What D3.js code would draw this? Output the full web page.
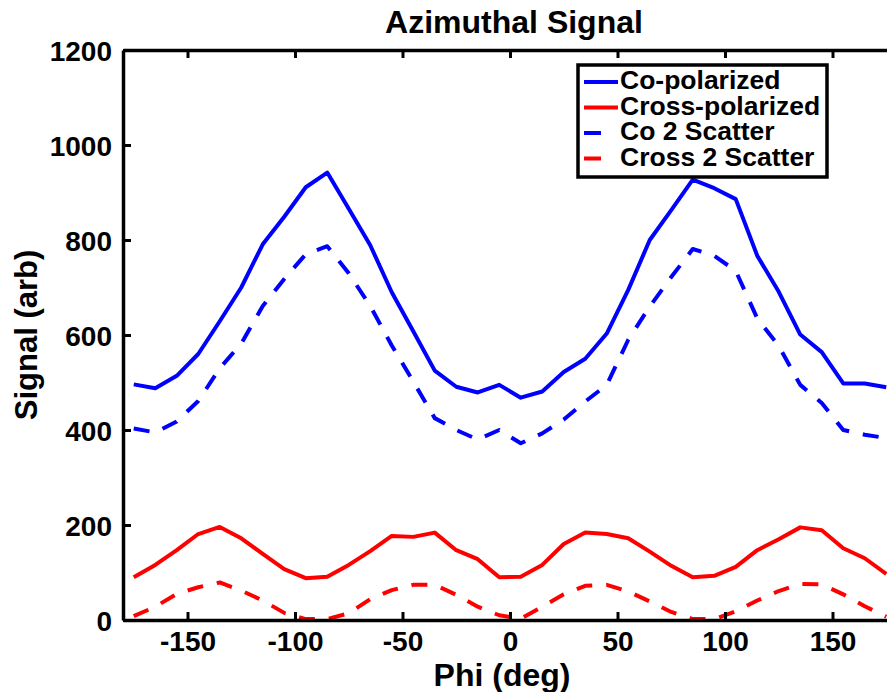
<!DOCTYPE html>
<html>
<head>
<meta charset="utf-8">
<script src="https://cdn.jsdelivr.net/npm/d3@7"></script>
<style>
  body { margin: 0; background: #fff; }
  svg { display: block; font-family: "Liberation Sans", Arial, Helvetica, sans-serif; font-weight: bold; }
</style>
</head>
<body>
<svg id="chart" width="887" height="692"></svg>
<script>
const phi = [-175, -165, -155, -145, -135, -125, -115, -105, -95, -85, -75, -65, -55, -45, -35, -25, -15, -5,
             5, 15, 25, 35, 45, 55, 65, 75, 85, 95, 105, 115, 125, 135, 145, 155, 165, 175];

const coPolarized = [496, 488, 514, 560, 629, 700, 791, 849, 911, 942, 866, 789, 690, 608, 525, 491, 479, 495,
                     468, 481, 522, 550, 603, 695, 800, 863, 927, 909, 886, 767, 691, 601, 564, 498, 498, 490];

const crossPolarized = [90, 116, 147, 181, 196, 172, 139, 107, 88, 91, 116, 145, 177, 175, 184, 147, 128, 90,
                        91, 116, 160, 184, 181, 172, 144, 114, 90, 93, 112, 147, 170, 195, 189, 151, 130, 97];

const co2Scatter = [403, 395, 418, 461, 530, 582, 661, 718, 770, 787, 730, 661, 578, 502, 425, 400, 380, 400,
                    372, 393, 422, 460, 495, 590, 660, 722, 781, 767, 735, 635, 577, 495, 457, 400, 390, 383];

const cross2Scatter = [8, 28, 55, 69, 79, 62, 41, 15, 2, 2, 14, 44, 63, 74, 74, 53, 28, 10,
                       3, 28, 54, 72, 74, 60, 39, 17, 2, 2, 18, 41, 61, 76, 75, 54, 29, 7];

const xTicks = [-150, -100, -50, 0, 50, 100, 150];
const yTicks = [0, 200, 400, 600, 800, 1000, 1200];

const series = [
  {name: 'Co-polarized', values: coPolarized, color: '#0000ff', dashed: false},
  {name: 'Cross-polarized', values: crossPolarized, color: '#ff0000', dashed: false},
  {name: 'Co 2 Scatter', values: co2Scatter, color: '#0000ff', dashed: true},
  {name: 'Cross 2 Scatter', values: cross2Scatter, color: '#ff0000', dashed: true}
];

const margin = {top: 50, left: 123};
const width = 774;
const height = 570;

const svg = d3.select('#chart');
const g = svg.append('g').attr('transform', `translate(${margin.left},${margin.top})`);

const x = d3.scaleLinear().domain([-180, 180]).range([0, width]);
const y = d3.scaleLinear().domain([0, 1200]).range([height, 0]);

// plain ascii labels, no thousands separator
const plain = d => String(d);

// data lines
const line = d3.line()
  .x((d, i) => x(phi[i]))
  .y(d => y(d));

g.selectAll('path.series')
  .data(series)
  .enter()
  .append('path')
  .attr('class', 'series')
  .attr('d', s => line(s.values))
  .attr('fill', 'none')
  .attr('stroke', s => s.color)
  .attr('stroke-width', 4)
  .attr('stroke-linejoin', 'round')
  .attr('stroke-dasharray', s => s.dashed ? '16,14' : null);

// axes, ticks pointing inwards
function styleAxis(sel) {
  sel.select('.domain').attr('stroke', '#000').attr('stroke-width', 3.5);
  sel.selectAll('.tick line').attr('stroke', '#000').attr('stroke-width', 3);
  sel.selectAll('.tick text')
    .attr('fill', '#000')
    .style('font-size', '28px')
    .style('font-family', '"Liberation Sans", Arial, sans-serif')
    .style('font-weight', 'bold');
}

g.append('g')
  .attr('transform', `translate(0,${height})`)
  .call(d3.axisBottom(x).tickValues(xTicks).tickFormat(plain).tickSizeInner(-8).tickSizeOuter(0).tickPadding(11))
  .call(styleAxis);

g.append('g')
  .call(d3.axisTop(x).tickValues(xTicks).tickSizeInner(-8).tickSizeOuter(0).tickFormat(''))
  .call(styleAxis);

g.append('g')
  .call(d3.axisLeft(y).tickValues(yTicks).tickFormat(plain).tickSizeInner(-8).tickSizeOuter(0).tickPadding(11))
  .call(styleAxis)
  .selectAll('.tick text').attr('dy', '0.36em');

g.append('g')
  .attr('transform', `translate(${width},0)`)
  .call(d3.axisRight(y).tickValues(yTicks).tickSizeInner(-8).tickSizeOuter(0).tickFormat(''))
  .call(styleAxis);

// titles
svg.append('text')
  .attr('x', 514)
  .attr('y', 33)
  .attr('text-anchor', 'middle')
  .style('font-size', '32px')
  .text('Azimuthal Signal');

svg.append('text')
  .attr('x', 502)
  .attr('y', 686)
  .attr('text-anchor', 'middle')
  .style('font-size', '32px')
  .text('Phi (deg)');

svg.append('text')
  .attr('transform', 'translate(37,335) rotate(-90)')
  .attr('text-anchor', 'middle')
  .style('font-size', '31px')
  .text('Signal (arb)');

// legend
const legend = svg.append('g').attr('class', 'legend');

legend.append('rect')
  .attr('x', 578)
  .attr('y', 65)
  .attr('width', 249)
  .attr('height', 112)
  .attr('fill', '#fff')
  .attr('stroke', '#000')
  .attr('stroke-width', 3.5);

const entries = legend.selectAll('g.entry')
  .data(series)
  .enter()
  .append('g')
  .attr('class', 'entry')
  .attr('transform', (d, i) => `translate(584,${82 + i * 25.5})`);

entries.append('line')
  .attr('x1', 0)
  .attr('x2', 34)
  .attr('stroke', d => d.color)
  .attr('stroke-width', 4)
  .attr('stroke-dasharray', d => d.dashed ? '17,17' : null);

entries.append('text')
  .attr('x', 36)
  .attr('y', 7)
  .style('font-size', '26.5px')
  .text(d => d.name);
</script>
</body>
</html>
